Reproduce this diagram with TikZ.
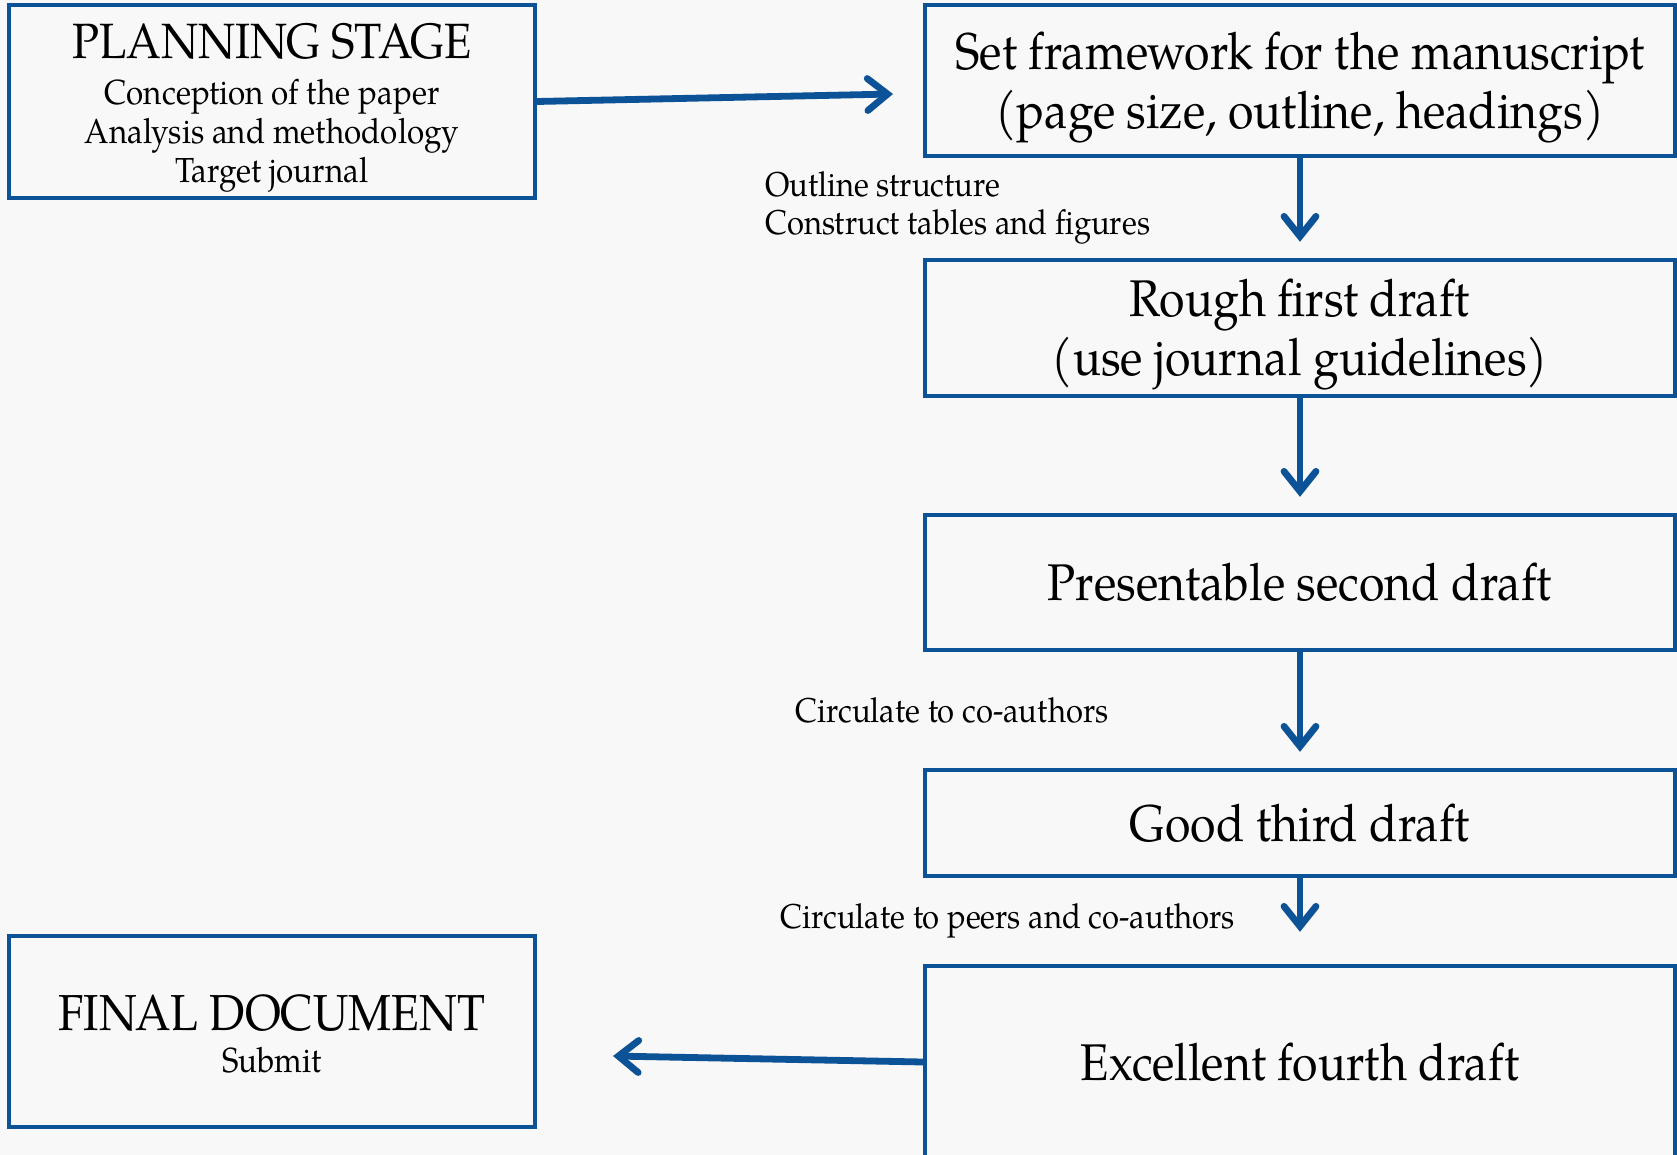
\documentclass[tikz,border=0pt]{standalone}
\usepackage{fontspec}
\setmainfont[FakeStretch=0.9]{TeX Gyre Pagella}
\usetikzlibrary{arrows.meta}
\definecolor{flowblue}{RGB}{12,82,150}
\definecolor{slidegray}{RGB}{248,248,248}
\newcommand{\toppad}[1]{\rule{0pt}{#1}}
\begin{document}
\begin{tikzpicture}[x=0.5pt, y=-0.5pt,
    stagebox/.style = {draw=flowblue, line width=2.2pt, align=center, inner sep=0pt, font=\fontsize{25.8}{29.5}\selectfont},
    sidebox/.style = {stagebox, minimum width=263pt, font=\fontsize{17.4}{19.3}\selectfont},
    mainbox/.style = {stagebox, minimum width=375pt},
    flowarrow/.style = {draw=flowblue, line width=3.4pt, line cap=round, -{Straight Barb[length=10pt,width=16pt,line cap=round]}},
    note/.style = {anchor=west, align=left, inner sep=0pt, font=\fontsize{17.2}{19.3}\selectfont}]
    \clip (0,0) rectangle (1677,1155);
    \fill[slidegray] (0,0) rectangle (1677,1155);
    \node[sidebox, minimum height=96.5pt] (plan) at (272,101.5) {\toppad{24pt}{\fontsize{24.8}{26}\selectfont PLANNING STAGE}\\[3.7pt] Conception of the paper\\ Analysis and methodology\\ Target journal};
    \node[sidebox, minimum height=95.5pt] (final) at (272,1031.5) {\toppad{20.5pt}{\fontsize{25.3}{27}\selectfont FINAL DOCUMENT}\\[2pt] Submit};
    \node[mainbox, minimum height=75.5pt] (frame) at (1300,80.5) {\toppad{25.4pt}Set framework for the manuscript\\ (page size, outline, headings)};
    \node[mainbox, minimum height=68pt] (rough) at (1300,328) {\toppad{25.4pt}Rough first draft\\ (use journal guidelines)};
    \node[mainbox, minimum height=67.5pt] (second) at (1300,582.5) {Presentable second draft};
    \node[mainbox, minimum height=53pt] (third) at (1300,823) {Good third draft};
    \node[mainbox, minimum height=96pt] (fourth) at (1300,1062) {Excellent fourth draft};
    \coordinate (frametip) at (893,94);
    \coordinate (finaltip) at (613,1056);
    \draw[flowarrow] (plan.east) -- (frametip);
    \draw[flowarrow, shorten >=8pt] (frame) -- (rough);
    \draw[flowarrow, shorten >=8pt] (rough) -- (second);
    \draw[flowarrow, shorten >=8pt] (second) -- (third);
    \draw[flowarrow, shorten >=16pt] (third) -- (fourth);
    \draw[flowarrow] (fourth.west) -- (finaltip);
    \node[note] (outline) at (765,208) {Outline structure\\ Construct tables and figures};
    \node[note] (coauthors) at (795,710) {Circulate to co-authors};
    \node[note] (peers) at (780,921) {Circulate to peers and co-authors};
\end{tikzpicture}
\end{document}
